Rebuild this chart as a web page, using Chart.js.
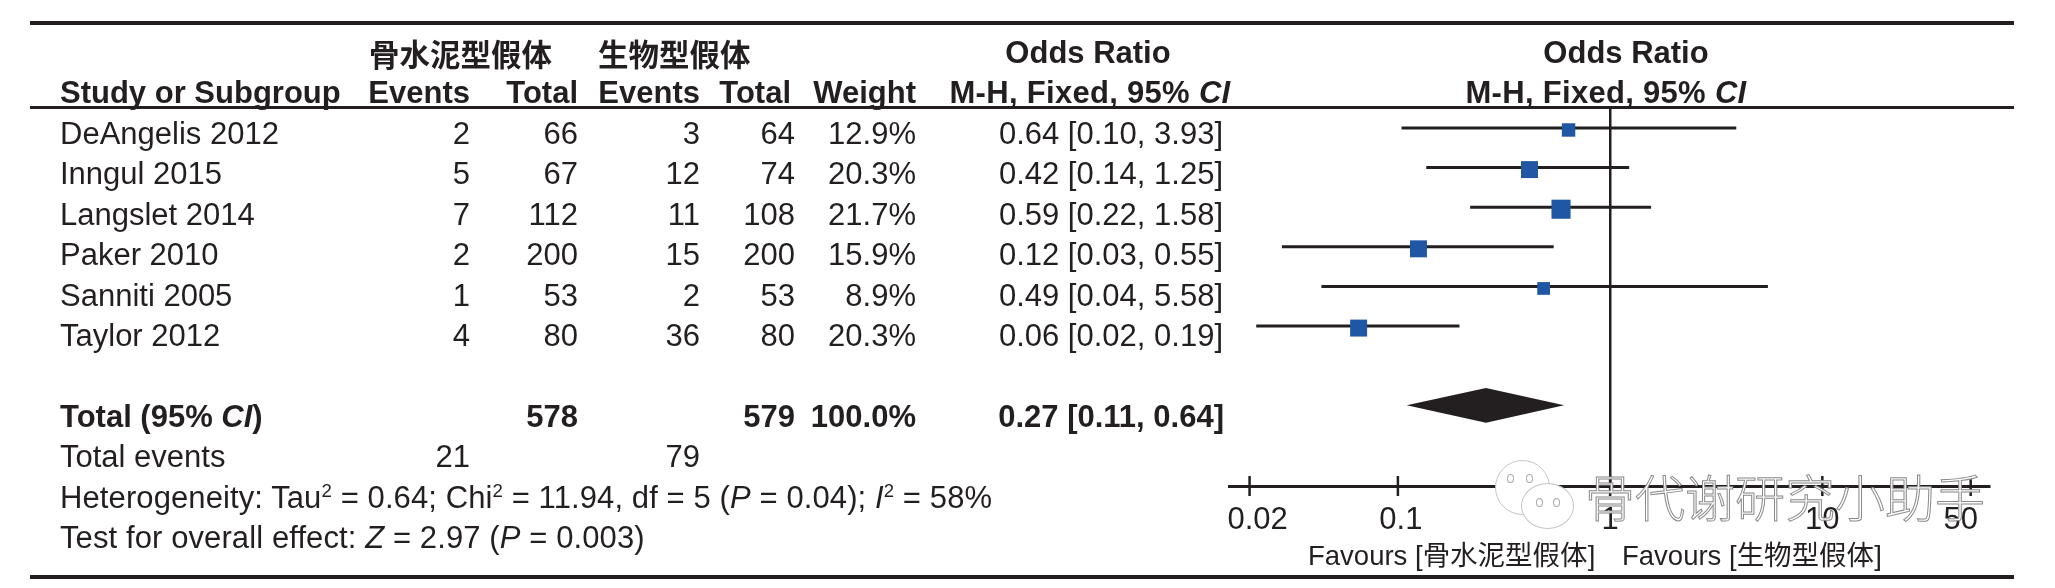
<!DOCTYPE html>
<html>
<head>
<meta charset="utf-8">
<script src="https://cdn.jsdelivr.net/npm/chart.js@4"></script>
<style>
  html, body { margin: 0; padding: 0; background: #fff; }
  #wrap { position: relative; width: 2055px; height: 588px; overflow: hidden; font-family: "Liberation Sans", Arial, sans-serif; font-size: 31px; color: #231f20; }
  #forest { position: absolute; left: 0; top: 0; }
  .t { position: absolute; white-space: nowrap; line-height: 36px; }
  .b { font-weight: bold; }
  .cjk { font-family: "Noto Sans CJK SC", sans-serif; }
  .head { font-size: 30.5px; }
  .wide { letter-spacing: 0.3px; }
  .note { letter-spacing: 0.1px; }
  .fav { font-size: 27.5px; }
  .rule { position: absolute; left: 30px; width: 1984px; background: #231f20; }
  sup { font-size: 60%; line-height: 0; vertical-align: baseline; position: relative; top: -0.55em; }
  .mark { color: #fff; font-family: "Noto Sans CJK SC", sans-serif; font-weight: 300; font-size: 50px; -webkit-text-stroke: 1px #8a8a8a; }
  .bubble { position: absolute; background: #fff; border: 1.5px solid #c4c4c4; border-radius: 50%; }
  .eye { position: absolute; width: 5px; height: 7px; border: 1px solid #aaa; border-radius: 50%; background: #fff; }
</style>
</head>
<body>
<div id="wrap">
  <canvas id="forest" width="2055" height="588"></canvas>
</div>
<script>
// table data
const studies = ['DeAngelis 2012', 'Inngul 2015', 'Langslet 2014', 'Paker 2010', 'Sanniti 2005', 'Taylor 2012'];
const cementEvents = [2, 5, 7, 2, 1, 4];
const cementTotal = [66, 67, 112, 200, 53, 80];
const bioEvents = [3, 12, 11, 15, 2, 36];
const bioTotal = [64, 74, 108, 200, 53, 80];
const weights = ['12.9%', '20.3%', '21.7%', '15.9%', '8.9%', '20.3%'];
const orLabels = ['0.64 [0.10, 3.93]', '0.42 [0.14, 1.25]', '0.59 [0.22, 1.58]', '0.12 [0.03, 0.55]', '0.49 [0.04, 5.58]', '0.06 [0.02, 0.19]'];

const oddsRatio = [0.637, 0.417, 0.587, 0.125, 0.486, 0.0653];
const ciLow = [0.104, 0.136, 0.219, 0.0284, 0.0436, 0.0215];
const ciHigh = [3.93, 1.23, 1.56, 0.542, 5.54, 0.195];

const pooled = [0.26, 0.11, 0.607]; // OR, low, high as drawn
const pooledLabel = '0.27 [0.11, 0.64]';
const pooledTotals = [578, 579];
const pooledEvents = [21, 79];
const xTicks = [0.02, 0.1, 1, 10, 50];

const cementName = '骨水泥型假体';
const bioName = '生物型假体';

const wrap = document.getElementById('wrap');

function put(x, y, html, align, cls) {
  let el = document.createElement('div');
  el.className = 't ' + (cls || '');
  el.innerHTML = html;
  el.style.left = x + 'px';
  el.style.top = y + 'px';
  let dx = align == 'right' ? '-100%' : align == 'center' ? '-50%' : '0';
  el.style.transform = `translate(${dx},-50%)`;
  wrap.appendChild(el);
}

function rule(y, h) {
  let el = document.createElement('div');
  el.className = 'rule';
  el.style.top = y + 'px';
  el.style.height = h + 'px';
  wrap.appendChild(el);
}

rule(21, 4);
rule(105.5, 3);
rule(575, 4);

// headers
put(369, 53, cementName, 'left', 'cjk b head');
put(598, 53, bioName, 'left', 'cjk b head');
put(1088, 53, 'Odds Ratio', 'center', 'b');
put(1626, 53, 'Odds Ratio', 'center', 'b');
put(60, 93, 'Study or Subgroup', 'left', 'b');
put(470, 93, 'Events', 'right', 'b');
put(578, 93, 'Total', 'right', 'b');
put(700, 93, 'Events', 'right', 'b');
put(791, 93, 'Total', 'right', 'b');
put(916, 93, 'Weight', 'right', 'b');
put(1090, 93, 'M-H, Fixed, 95% <i>CI</i>', 'center', 'b wide');
put(1606, 93, 'M-H, Fixed, 95% <i>CI</i>', 'center', 'b wide');

const textY = i => 134 + 40.4 * i;

studies.forEach(function (name, i) {
  let y = textY(i);
  put(60, y, name);
  put(470, y, cementEvents[i], 'right');
  put(578, y, cementTotal[i], 'right');
  put(700, y, bioEvents[i], 'right');
  put(795, y, bioTotal[i], 'right');
  put(916, y, weights[i], 'right');
  put(1223, y, orLabels[i], 'right');
});

// totals
put(60, textY(7), 'Total (95% <i>CI</i>)', 'left', 'b');
put(578, textY(7), pooledTotals[0], 'right', 'b');
put(795, textY(7), pooledTotals[1], 'right', 'b');
put(916, textY(7), '100.0%', 'right', 'b');
put(1224, textY(7), pooledLabel, 'right', 'b');
put(60, textY(8), 'Total events');
put(470, textY(8), pooledEvents[0], 'right');
put(700, textY(8), pooledEvents[1], 'right');
put(60, textY(9), 'Heterogeneity: Tau<sup>2</sup> = 0.64; Chi<sup>2</sup> = 11.94, df = 5 (<i>P</i> = 0.04); <i>I</i><sup>2</sup> = 58%', 'left', 'note');
put(60, textY(10), 'Test for overall effect: <i>Z</i> = 2.97 (<i>P</i> = 0.003)', 'left', 'note');

// favours labels
put(1308, 554, `Favours [<span class="cjk">${cementName}</span>]`, 'left', 'fav');
put(1622, 554, `Favours [<span class="cjk">${bioName}</span>]`, 'left', 'fav');

// plot
const yMin = -0.53, yMax = 9.036;
const ink = '#231f20';
const totalRow = 7;

const ciLines = studies.flatMap((s, i) => [
  { x: ciLow[i], y: i }, { x: ciHigh[i], y: i }, { x: oddsRatio[i], y: NaN }
]);
// the squares sit a touch below their lines in the original
const squares = oddsRatio.map((v, i) => ({ x: v, y: i + 0.05 }));
const diamondHalf = 0.44;
const diamond = [
  { x: pooled[1], y: totalRow },
  { x: pooled[0], y: totalRow - diamondHalf },
  { x: pooled[2], y: totalRow },
  { x: pooled[0], y: totalRow + diamondHalf },
  { x: pooled[1], y: totalRow }
];

const labelNudge = [8, 3, 0, 0, -10];

const nudgeLabels = {
  id: 'nudgeLabels',
  afterUpdate(chart) {
    chart.scales.x.getLabelItems().forEach(function (item, i) {
      item.options.translation[0] += labelNudge[i];
    });
  }
};

new Chart(document.getElementById('forest'), {
  type: 'scatter',
  plugins: [nudgeLabels],
  data: {
    datasets: [
      {
        label: 'Odds ratio',
        data: squares,
        pointStyle: 'rect',
        pointRadius: [9.5, 12, 13.5, 12, 9, 12],
        backgroundColor: '#1f57a5',
        borderWidth: 0,
        clip: false
      },
      {
        label: '95% CI',
        data: ciLines,
        showLine: true,
        spanGaps: false,
        pointRadius: 0,
        borderColor: ink,
        borderWidth: 3
      },
      {
        label: 'Total',
        data: diamond,
        showLine: true,
        fill: 'shape',
        tension: 0,
        pointRadius: 0,
        borderWidth: 0,
        backgroundColor: ink
      },
      {
        label: 'Axis ticks',
        data: xTicks.map(v => ({ x: v, y: yMax })),
        pointStyle: 'line',
        rotation: 90,
        pointRadius: 10,
        borderColor: ink,
        borderWidth: 2.5,
        clip: false
      }
    ]
  },
  options: {
    responsive: false,
    animation: false,
    layout: { padding: { left: 1229, top: 107, right: 66, bottom: 0 } },
    plugins: { legend: { display: false }, tooltip: { enabled: false } },
    scales: {
      x: {
        type: 'logarithmic',
        min: 0.016,
        max: 61,
        afterBuildTicks(scale) { scale.ticks = xTicks.map(v => ({ value: v })); },
        afterFit(scale) { scale.height = 102; },
        border: { display: true, color: ink, width: 3 },
        grid: {
          drawTicks: false,
          lineWidth: 2.5,
          color: ctx => (ctx.tick && ctx.tick.value === 1 ? ink : 'rgba(0,0,0,0)')
        },
        ticks: {
          autoSkip: false,
          maxRotation: 0,
          padding: 16,
          color: ink,
          font: { family: '"Liberation Sans", Arial, sans-serif', size: 31 },
          callback: v => String(v)
        }
      },
      y: { display: false, reverse: true, min: yMin, max: yMax }
    }
  }
});

// account watermark sitting on top of the figure
[[1495, 460, 53, 53], [1521, 483, 51, 44]].forEach(function (b) {
  let el = document.createElement('div');
  el.className = 'bubble';
  el.style.cssText = `left:${b[0]}px;top:${b[1]}px;width:${b[2]}px;height:${b[3]}px`;
  wrap.appendChild(el);
});
[[1507, 474], [1526, 474], [1536, 498], [1553, 498]].forEach(function (e) {
  let el = document.createElement('div');
  el.className = 'eye';
  el.style.left = e[0] + 'px';
  el.style.top = e[1] + 'px';
  wrap.appendChild(el);
});
put(1585, 495, '骨代谢研究小助手', 'left', 'mark');
</script>
</body>
</html>
